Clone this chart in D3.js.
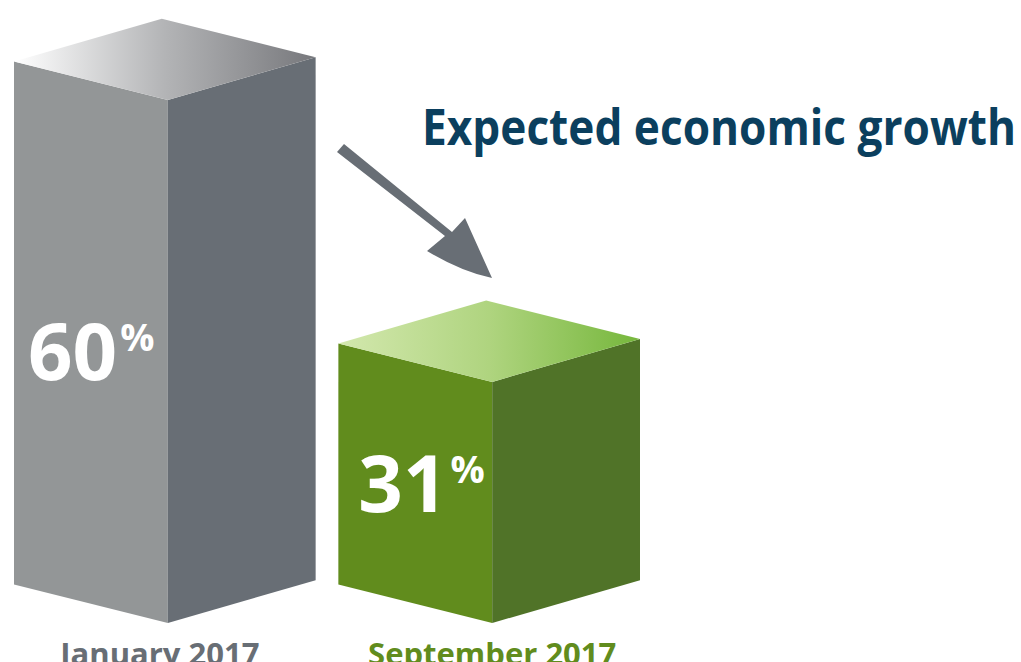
<!DOCTYPE html>
<html>
<head>
<meta charset="utf-8">
<script src="https://cdn.jsdelivr.net/npm/d3@7"></script>
<style>
  html, body { margin: 0; padding: 0; background: #ffffff; overflow: hidden; }
  svg { display: block; }
  text { font-family: "Open Sans", "Noto Sans", sans-serif; font-weight: 700; }
</style>
</head>
<body>
<svg id="chart" width="1021" height="662"></svg>
<script>
// Expected economic growth, two survey dates
const categories = ["January 2017", "September 2017"];
const values = [60, 31];
const valueSuffix = "%";
const title = "Expected economic growth";

// Cube palettes: left face, right face, top gradient (left → middle → right), label colour
const palettes = [
  { left: "#939697", right: "#686e75", top: ["#ffffff", "#b3b4b6", "#77787c"], label: "#686e75" },
  { left: "#618c1d", right: "#507328", top: ["#d3e8ae", "#afd47f", "#76b73c"], label: "#618c1d" }
];

const width = 1021, height = 662;
const svg = d3.select("#chart");
const defs = svg.append("defs");

// Horizontal placement of the cubes
const x = d3.scaleBand().domain(categories).range([14, 640]).paddingInner(0.07).paddingOuter(0);

// Height of the front edge; the value axis starts above zero
const baseY = 623;
const h = d3.scaleLinear().domain([6.2, 60]).range([0, 523]);

const leftFrac = 0.51;      // share of the cube width taken by the left face
const leftSlope = 0.25;     // the left face falls towards the front edge
const rightSlope = 0.29;    // the right face rises away from the front edge

const cubes = categories.map((c, i) => {
  const bw = x.bandwidth();
  const x0 = x(c);
  const lw = bw * leftFrac;
  const rw = bw - lw;
  const fx = x0 + lw;
  const x1 = x0 + bw;
  const yt = baseY - h(values[i]);
  const yb = baseY;
  const dl = lw * leftSlope;
  const dr = rw * rightSlope;
  return { c, i, v: values[i], x0, x1, fx, yt, yb, dl, dr, lw, rw };
});

const line = d3.line();

// Top-face gradients
cubes.forEach(d => {
  const g = defs.append("linearGradient")
    .attr("id", "top" + d.i)
    .attr("gradientUnits", "userSpaceOnUse")
    .attr("x1", d.x0).attr("y1", 0).attr("x2", d.x1).attr("y2", 0);
  palettes[d.i].top.forEach((col, k, arr) => {
    g.append("stop").attr("offset", k / (arr.length - 1)).attr("stop-color", col);
  });
});

const cubeG = svg.selectAll("g.cube").data(cubes).join("g").attr("class", "cube");

// left face
cubeG.append("path")
  .attr("d", d => line([[d.x0, d.yt - d.dl], [d.fx, d.yt], [d.fx, d.yb], [d.x0, d.yb - d.dl]]) + "Z")
  .attr("fill", d => palettes[d.i].left);

// right face
cubeG.append("path")
  .attr("d", d => line([[d.fx, d.yt], [d.x1, d.yt - d.dr], [d.x1, d.yb - d.dr], [d.fx, d.yb]]) + "Z")
  .attr("fill", d => palettes[d.i].right);

// top face
cubeG.append("path")
  .attr("d", d => line([[d.x0, d.yt - d.dl], [d.fx, d.yt], [d.x1, d.yt - d.dr], [d.x0 + d.rw, d.yt - d.dl - d.dr]]) + "Z")
  .attr("fill", d => `url(#top${d.i})`);

// value labels on the left faces
const valueLabel = cubeG.append("text")
  .attr("x", d => d.x0 + 14 + d.i * 6)
  .attr("y", d => (d.yt + d.yb) / 2 + 14 + (d.i === 0 ? 4 : -4))
  .attr("fill", "#ffffff");
valueLabel.append("tspan")
  .attr("font-size", 78)
  .text(d => d.v);
valueLabel.append("tspan")
  .attr("font-size", 38)
  .attr("dx", 3)
  .attr("dy", -29)
  .text(valueSuffix);

// category labels under the cubes
svg.selectAll("text.cat").data(cubes).join("text")
  .attr("class", "cat")
  .attr("x", d => d.fx - (d.i === 0 ? 8 : 0))
  .attr("y", 665)
  .attr("text-anchor", "middle")
  .attr("font-size", 31)
  .attr("fill", d => palettes[d.i].label)
  .text(d => d.c);

// downward arrow between the two cubes
svg.append("path")
  .attr("d", "M337,152 L344,144 L452,232 L465,218 L492,278 Q462,272 427,251 L445,236 Z")
  .attr("fill", "#686e75");

// title
svg.append("text")
  .attr("x", 422)
  .attr("y", 145)
  .attr("font-size", 50)
  .attr("fill", "#0b3f5e")
  .attr("textLength", 594)
  .attr("lengthAdjust", "spacingAndGlyphs")
  .text(title);
</script>
</body>
</html>
